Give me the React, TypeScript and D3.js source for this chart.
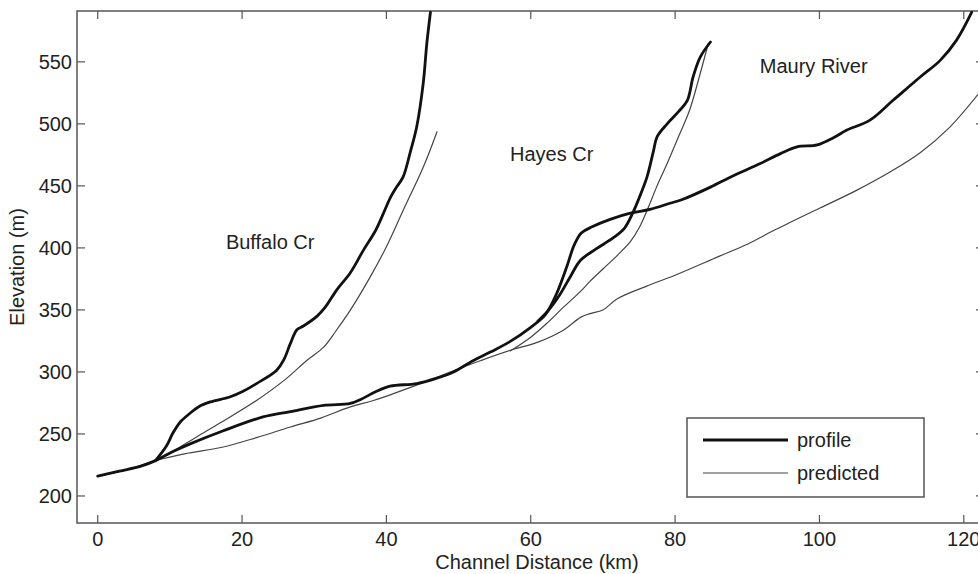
import React from "react";
import * as d3 from "d3";

type P = [number, number];

const xTicks = [0, 20, 40, 60, 80, 100, 120];
const yTicks = [200, 250, 300, 350, 400, 450, 500, 550];

const mauryProfile: P[] = [
  [0, 216], [3, 220], [6, 224], [8, 228.5], [10.5, 236], [12.8, 242], [17.4, 252.6], [22.9, 263.7],
  [26.7, 268], [31.3, 273], [35, 274.6], [36.5, 278], [38.5, 284], [40.5, 288.5], [44.2, 290.6],
  [47, 295], [49.3, 300], [52, 309], [54.4, 316], [57, 324], [60, 336], [62, 346], [63.5, 362],
  [65, 385], [66, 402], [67, 412], [68.5, 417], [71, 423], [73.8, 428], [76.5, 431], [79.3, 436],
  [81, 439], [84.9, 449], [88, 458], [91.8, 468], [94.6, 476], [96.9, 481.5], [99.7, 483],
  [102, 489], [103.8, 495], [107, 503], [110.2, 519], [114, 538], [116.7, 551], [119, 567.5], [121.1, 590],
];

const mauryPredicted: P[] = [
  [0, 216], [4, 221], [8, 228.5], [12, 234], [17.4, 239.5], [22, 247], [26.7, 255.6], [31, 263],
  [35, 271.8], [38.2, 277], [44, 289], [49.3, 301], [53, 309], [57.2, 317.5], [61, 324],
  [64.5, 333.6], [66.9, 344], [68.2, 347], [70, 350], [72, 359], [76, 369], [80, 378], [86, 393],
  [90, 403], [94, 415], [100, 432], [105, 446], [110, 462], [114, 477], [118, 497], [122, 524],
];

const hayesProfile: P[] = [
  [61, 341], [62.5, 350], [64, 362], [65.5, 377], [66.9, 390], [69, 399], [71.4, 408], [73, 416],
  [74.2, 429], [75, 440], [76.1, 457], [77, 478], [77.5, 489.5], [78.9, 500], [80.5, 510],
  [81.7, 519], [82.5, 538], [83.5, 554], [84.9, 566],
];

const hayesPredicted: P[] = [
  [57.2, 317], [60, 328], [62.2, 339], [64.5, 352], [66.9, 365], [68.2, 373], [70, 383], [72, 394],
  [73.8, 405], [75, 416], [76.1, 430], [77.5, 450], [78.9, 468], [80.5, 490], [82, 511],
  [83.5, 541], [84.6, 565],
];

const buffaloProfile: P[] = [
  [8, 228.5], [9.5, 240], [10.4, 250.5], [11.5, 260], [12.8, 266.7], [14, 272], [15.6, 275.8],
  [18.3, 279.8], [20, 284], [22, 290.6], [24.8, 301.4], [25.8, 310], [26.7, 323], [27.6, 334],
  [28.5, 337], [30.4, 345], [31.5, 352], [33.1, 366], [35, 380], [36.8, 398], [38.5, 414],
  [39.6, 428], [40.5, 440], [41.4, 449], [42.3, 457], [43.3, 477], [44.2, 497.6], [45.1, 532.6],
  [45.6, 564.8], [46.1, 590],
];

const buffaloPredicted: P[] = [
  [8, 228.5], [11, 238], [13.7, 247.6], [17, 259], [22, 277], [26, 294], [29, 309.4], [31.3, 320],
  [33, 333], [35, 349.8], [37.7, 376], [40, 401], [42.3, 430], [45.1, 465], [47, 493.5],
];

const profiles = [mauryProfile, hayesProfile, buffaloProfile];
const predictions = [mauryPredicted, hayesPredicted, buffaloPredicted];

const riverLabels: { name: string; d: number; e: number }[] = [
  { name: "Buffalo Cr", d: 23.9, e: 404.6 },
  { name: "Hayes Cr", d: 62.9, e: 475.6 },
  { name: "Maury River", d: 99.2, e: 546.5 },
];

const legendItems = ["profile", "predicted"];

export default function App() {
  const W = 978, H = 574;
  const left = 77, right = 984, top = 11, bottom = 523;
  const x = d3.scaleLinear().domain([-2.87, 122.8]).range([left, right]);
  const y = d3.scaleLinear().domain([178.2, 591]).range([bottom, top]);
  const line = d3
    .line<P>()
    .x((p) => x(p[0]))
    .y((p) => y(p[1]))
    .curve(d3.curveCatmullRom.alpha(0.5));
  const axisColor = "#555";
  const font = "Liberation Sans, Arial, sans-serif";
  const tickLen = 8;
  const fs = 20;

  return (
    <svg width={W} height={H} style={{ position: "absolute", left: 0, top: 0, background: "#fff" }} fontFamily={font}>
      <defs>
        <clipPath id="plot">
          <rect x={left} y={top} width={right - left} height={bottom - top} />
        </clipPath>
      </defs>
      <rect x={0} y={0} width={W} height={H} fill="#fff" />
      <rect x={left} y={top} width={right - left} height={bottom - top} fill="none" stroke={axisColor} strokeWidth={1.5} />
      {xTicks.map((t) => (
        <g key={"x" + t}>
          <line x1={x(t)} x2={x(t)} y1={bottom} y2={bottom - tickLen} stroke={axisColor} strokeWidth={1.2} />
          <line x1={x(t)} x2={x(t)} y1={top} y2={top + tickLen} stroke={axisColor} strokeWidth={1.2} />
          <text x={x(t)} y={546} textAnchor="middle" fontSize={fs} fill="#222">{t}</text>
        </g>
      ))}
      {yTicks.map((t) => (
        <g key={"y" + t}>
          <line x1={left} x2={left + tickLen} y1={y(t)} y2={y(t)} stroke={axisColor} strokeWidth={1.2} />
          <line x1={right} x2={right - tickLen} y1={y(t)} y2={y(t)} stroke={axisColor} strokeWidth={1.2} />
          <text x={72} y={y(t)} dy="0.35em" textAnchor="end" fontSize={fs} fill="#222">{t}</text>
        </g>
      ))}
      <text x={537} y={569} textAnchor="middle" fontSize={fs} fill="#222">Channel Distance (km)</text>
      <text transform={`translate(24,${(top + bottom) / 2}) rotate(-90)`} textAnchor="middle" fontSize={fs} fill="#222">Elevation (m)</text>

      <g clipPath="url(#plot)" fill="none" strokeLinejoin="round" strokeLinecap="round">
        {predictions.map((p, i) => (
          <path key={"pr" + i} d={line(p) || ""} stroke="#444" strokeWidth={1.2} />
        ))}
        {profiles.map((p, i) => (
          <path key={"pf" + i} d={line(p) || ""} stroke="#111" strokeWidth={2.8} />
        ))}
      </g>

      {riverLabels.map((l) => (
        <text key={l.name} x={x(l.d)} y={y(l.e)} dy="0.35em" textAnchor="middle" fontSize={fs} fill="#222">{l.name}</text>
      ))}

      <g>
        <rect x={687} y={418} width={237} height={79} fill="#fff" stroke={axisColor} strokeWidth={1.5} />
        {legendItems.map((name, i) => (
          <g key={name}>
            <line x1={703} x2={788} y1={440 + i * 33} y2={440 + i * 33} stroke={i === 0 ? "#111" : "#444"} strokeWidth={i === 0 ? 3 : 1.2} />
            <text x={797} y={440 + i * 33} dy="0.35em" fontSize={fs} fill="#222">{name}</text>
          </g>
        ))}
      </g>
    </svg>
  );
}
